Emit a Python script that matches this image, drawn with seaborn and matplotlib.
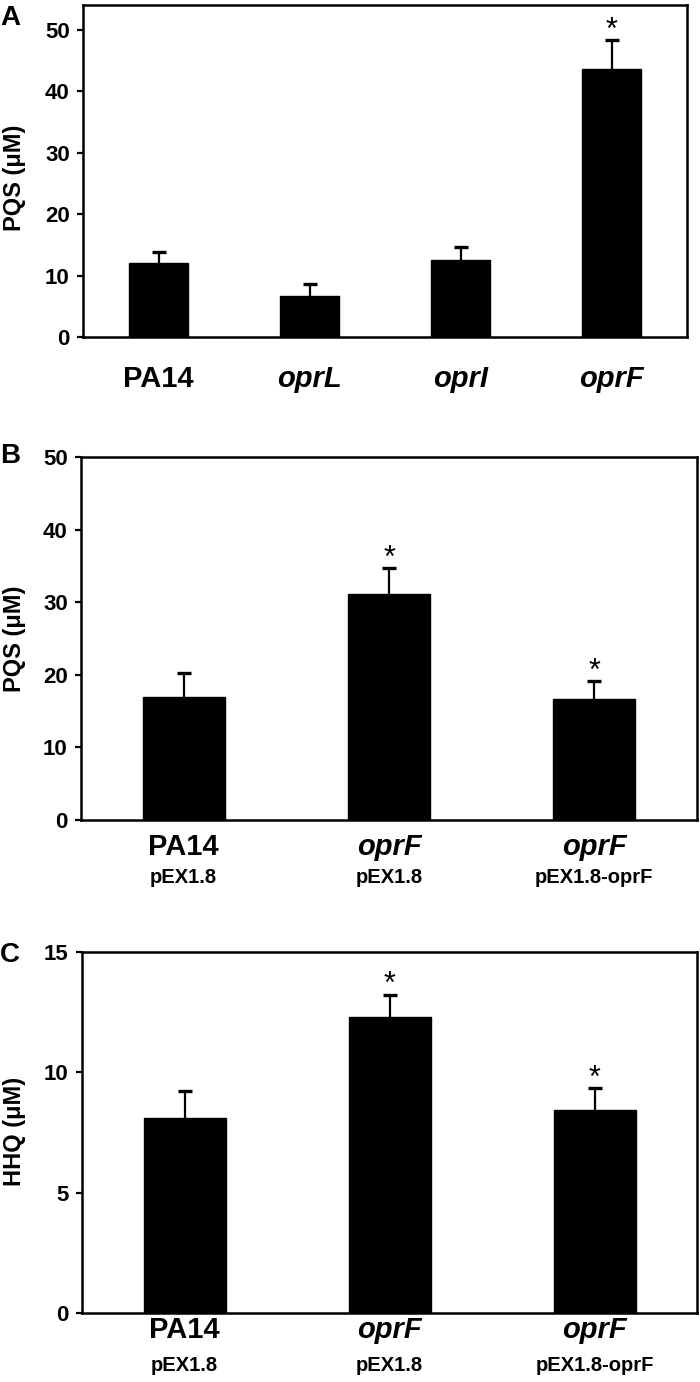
import pandas as pd
import matplotlib.pyplot as plt
import seaborn as sns

# --- Data ---
a_strains = ['PA14', 'oprL', 'oprI', 'oprF']
a_italic = [False, True, True, True]
a_pqs = [12.0, 6.7, 12.5, 43.6]
a_pqs_err = [1.8, 1.9, 2.2, 4.7]
a_sig = ['', '', '', '*']

bc_strains = ['PA14', 'oprF', 'oprF']
bc_italic = [False, True, True]
bc_plasmids = ['pEX1.8', 'pEX1.8', 'pEX1.8-oprF']
b_pqs = [17.0, 31.1, 16.7]
b_pqs_err = [3.2, 3.6, 2.4]
b_sig = ['', '*', '*']
c_hhq = [8.1, 12.3, 8.45]
c_hhq_err = [1.13, 0.93, 0.88]
c_sig = ['', '*', '*']

sns.set_theme(style='ticks')
plt.rcParams['font.family'] = ['Liberation Sans', 'DejaVu Sans']
plt.rcParams['font.weight'] = 'bold'
for key in ['text.color', 'axes.labelcolor', 'xtick.color', 'ytick.color', 'axes.edgecolor']:
    plt.rcParams[key] = 'black'

W, H = 700, 1382
fig = plt.figure(figsize=(W / 100, H / 100), dpi=100)


def px_axes(left, right, top, bottom):
    return fig.add_axes([left / W, 1 - bottom / H, (right - left) / W, (bottom - top) / H])


def draw_panel(ax, labels, italic, values, errs, sig, ylim, yticks, width,
               main_off, sub_labels=None, sub_off=None):
    df = pd.DataFrame({'x': [str(i) for i in range(len(values))], 'y': values})
    sns.barplot(data=df, x='x', y='y', color='black', saturation=1, width=width,
                errorbar=None, ax=ax, zorder=2)
    for p in ax.patches:
        p.set_edgecolor('black')
    pos = list(range(len(values)))
    eb = ax.errorbar(pos, values, yerr=[[0] * len(errs), errs], fmt='none', ecolor='black',
                     elinewidth=1.6, capsize=5, capthick=2.4, zorder=3)
    # hide the (zero-length) lower caps
    eb[1][0].set_visible(False)
    for i, (v, e, s) in enumerate(zip(values, errs, sig)):
        if s:
            ax.annotate(s, xy=(i, v + e), xytext=(0, 1), textcoords='offset points',
                        ha='center', va='baseline', fontsize=22, fontweight='normal')
    ax.set_xlim(-0.5, len(values) - 0.5)
    ax.set_ylim(*ylim)
    ax.set_yticks(yticks)
    ax.set_yticklabels([str(t) for t in yticks], fontsize=16, fontweight='bold')
    ax.set_xticks([])
    ax.set_xlabel('')
    ax.set_ylabel('')
    for sp in ax.spines.values():
        sp.set_visible(True)
        sp.set_linewidth(1.8)
        sp.set_color('black')
    ax.tick_params(axis='y', direction='out', length=4.5, width=1.6, pad=5, colors='black')
    trans = ax.get_xaxis_transform()
    for i, (lab, it) in enumerate(zip(labels, italic)):
        ax.annotate(lab, xy=(i, 0), xycoords=trans, xytext=(0, -main_off),
                    textcoords='offset pixels', ha='center', va='baseline',
                    fontsize=21, fontweight='bold', style='italic' if it else 'normal')
    if sub_labels:
        for i, lab in enumerate(sub_labels):
            ax.annotate(lab, xy=(i, 0), xycoords=trans, xytext=(0, -sub_off),
                        textcoords='offset pixels', ha='center', va='baseline',
                        fontsize=14.5, fontweight='bold')


# Panel A
ax_a = px_axes(83, 687, 5, 337)
draw_panel(ax_a, a_strains, a_italic, a_pqs, a_pqs_err, a_sig, (0, 54),
           [0, 10, 20, 30, 40, 50], 0.39, 50)

# Panel B
ax_b = px_axes(81, 697, 457, 820)
draw_panel(ax_b, bc_strains, bc_italic, b_pqs, b_pqs_err, b_sig, (0, 50),
           [0, 10, 20, 30, 40, 50], 0.40, 35, bc_plasmids, 63)

# Panel C
ax_c = px_axes(82, 697, 952, 1313)
draw_panel(ax_c, bc_strains, bc_italic, c_hhq, c_hhq_err, c_sig, (0, 15),
           [0, 5, 10, 15], 0.40, 25, bc_plasmids, 58)

# y-axis labels
fig.text(15 / W, 1 - 178 / H, 'PQS (μM)', rotation=90, ha='center', va='center',
         fontsize=17, fontweight='bold')
fig.text(15 / W, 1 - 639 / H, 'PQS (μM)', rotation=90, ha='center', va='center',
         fontsize=17, fontweight='bold')
fig.text(15 / W, 1 - 1131 / H, 'HHQ (μM)', rotation=90, ha='center', va='center',
         fontsize=17, fontweight='bold')

# panel letters
for letter, base in [('A', 25), ('B', 463), ('C', 962)]:
    fig.text(0 / W, 1 - base / H, letter, ha='left', va='baseline',
             fontsize=20, fontweight='bold')

fig.savefig('out.png', dpi=100)
